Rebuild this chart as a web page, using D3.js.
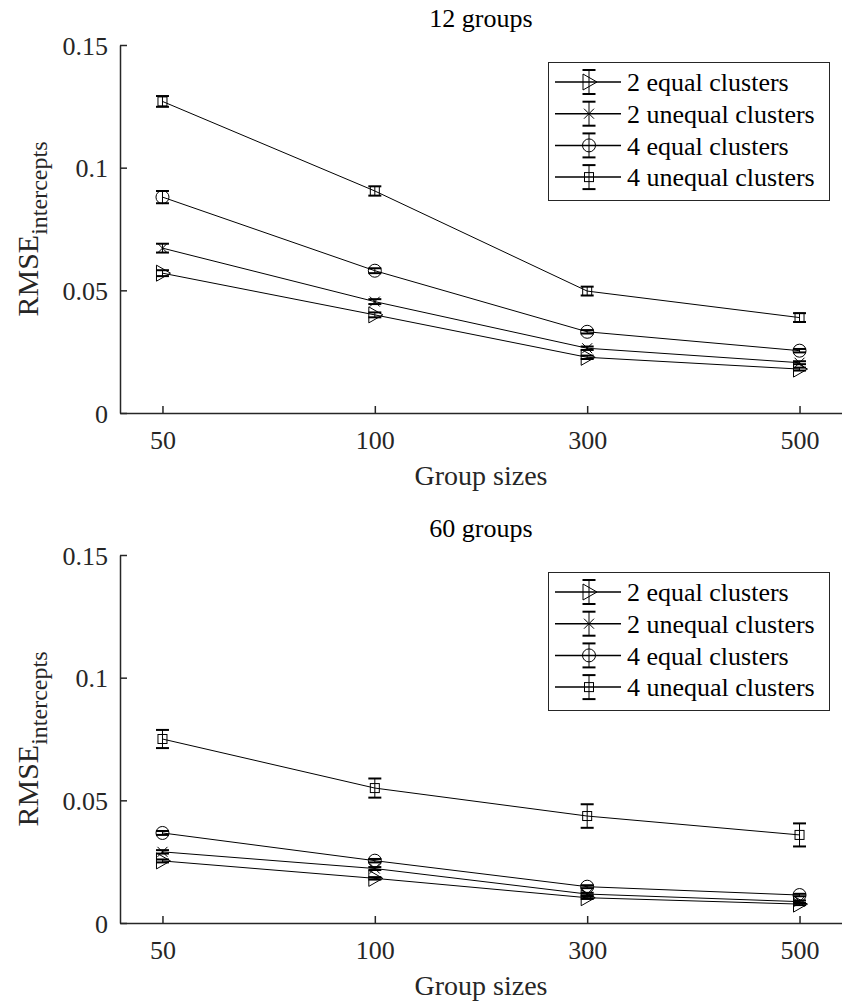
<!DOCTYPE html>
<html>
<head>
<meta charset="utf-8">
<script src="https://cdn.jsdelivr.net/npm/d3@7"></script>
<style>
  body { margin: 0; background: #fff; }
  svg, svg text { font-family: "Liberation Serif", "Times New Roman", serif; }
  svg { display: block; }
</style>
</head>
<body>
<div id="chart"></div>
<script>
// data
const groupSizes = ["50", "100", "300", "500"];
const seriesNames = ["2 equal clusters", "2 unequal clusters", "4 equal clusters", "4 unequal clusters"];
const seriesMarkers = ["tri", "x", "circle", "square"];
const yTicks = [0, 0.05, 0.1, 0.15];
const yTickLabels = ["0", "0.05", "0.1", "0.15"];

// 12 groups
const eq2_12 = [0.0570, 0.0400, 0.0227, 0.0179];
const uneq2_12 = [0.0672, 0.0454, 0.0264, 0.0205];
const eq4_12 = [0.0880, 0.0580, 0.0331, 0.0254];
const uneq4_12 = [0.1270, 0.0905, 0.0497, 0.0389];
const eq2_12err = [0.0012, 0.0010, 0.0007, 0.0006];
const uneq2_12err = [0.0018, 0.0010, 0.0007, 0.0006];
const eq4_12err = [0.0025, 0.0010, 0.0007, 0.0007];
const uneq4_12err = [0.0022, 0.0019, 0.0018, 0.0018];

// 60 groups
const eq2_60 = [0.0253, 0.0182, 0.0103, 0.0077];
const uneq2_60 = [0.0290, 0.0222, 0.0118, 0.0087];
const eq4_60 = [0.0367, 0.0254, 0.0148, 0.0114];
const uneq4_60 = [0.0750, 0.0550, 0.0436, 0.0359];
const eq2_60err = [0.0006, 0.0005, 0.0005, 0.0004];
const uneq2_60err = [0.0007, 0.0006, 0.0005, 0.0005];
const eq4_60err = [0.0008, 0.0007, 0.0006, 0.0005];
const uneq4_60err = [0.0037, 0.0039, 0.0048, 0.0047];

const width = 842, height = 1004;
const axisColor = "#262626";
const serif = '"Liberation Serif", "Times New Roman", serif';

const svg = d3.select("#chart").append("svg")
  .attr("width", width)
  .attr("height", height);

const x = d3.scalePoint()
  .domain(groupSizes)
  .range([120, 842])
  .padding(0.2);

function drawMarker(g, type, cx, cy) {
  if (type == "circle") {
    g.append("circle").attr("cx", cx).attr("cy", cy).attr("r", 6.5)
      .attr("fill", "none").attr("stroke", "#000").attr("stroke-width", 1);
  } else if (type == "square") {
    g.append("rect").attr("x", cx - 4.5).attr("y", cy - 4.5).attr("width", 9).attr("height", 9)
      .attr("fill", "none").attr("stroke", "#000").attr("stroke-width", 1);
  } else if (type == "tri") {
    g.append("path")
      .attr("d", `M${cx - 6},${cy - 8}L${cx + 8},${cy}L${cx - 6},${cy + 8}Z`)
      .attr("fill", "none").attr("stroke", "#000").attr("stroke-width", 1);
  } else if (type == "x") {
    g.append("path")
      .attr("d", `M${cx - 5},${cy - 5}L${cx + 5},${cy + 5}M${cx - 5},${cy + 5}L${cx + 5},${cy - 5}`)
      .attr("fill", "none").attr("stroke", "#000").attr("stroke-width", 1);
  }
}

function drawErrorBar(g, cx, yTop, yBot) {
  g.append("line").attr("x1", cx).attr("x2", cx).attr("y1", yTop).attr("y2", yBot)
    .attr("stroke", "#000").attr("stroke-width", 1);
  [yTop, yBot].forEach(yy => {
    g.append("line").attr("x1", cx - 6.5).attr("x2", cx + 6.5).attr("y1", yy).attr("y2", yy)
      .attr("stroke", "#000").attr("stroke-width", 2);
  });
}

function drawPanel(top, title, values, errors) {
  const bottom = top + 368;
  const y = d3.scaleLinear().domain([0, 0.15]).range([bottom, top]);
  const g = svg.append("g");

  // axes
  const xAxis = g.append("g")
    .attr("transform", `translate(0,${bottom})`)
    .call(d3.axisBottom(x).tickSizeInner(-7).tickSizeOuter(0).tickPadding(18));
  const yAxis = g.append("g")
    .attr("transform", "translate(120,0)")
    .call(d3.axisLeft(y).tickValues(yTicks).tickFormat((d, i) => yTickLabels[i])
      .tickSizeInner(-7).tickSizeOuter(0).tickPadding(12));
  [xAxis, yAxis].forEach(a => {
    a.attr("font-family", serif).attr("font-size", 26);
    a.select(".domain").attr("stroke", axisColor).attr("stroke-width", 1.5);
    a.selectAll(".tick line").attr("stroke", axisColor).attr("stroke-width", 1.5);
    a.selectAll(".tick text").attr("fill", axisColor);
  });
  yAxis.selectAll(".tick text").attr("dy", "0.35em");
  xAxis.selectAll(".tick text").attr("dy", "0.71em");

  // labels
  g.append("text")
    .attr("x", 481).attr("y", top - 18)
    .attr("text-anchor", "middle")
    .attr("font-size", 26)
    .attr("fill", "#000")
    .text(title);
  g.append("text")
    .attr("x", 481).attr("y", bottom + 72)
    .attr("text-anchor", "middle")
    .attr("font-size", 28)
    .attr("fill", axisColor)
    .text("Group sizes");
  const yl = g.append("text")
    .attr("transform", `translate(38,${(top + bottom) / 2}) rotate(-90)`)
    .attr("text-anchor", "middle")
    .attr("font-size", 30)
    .attr("fill", axisColor);
  yl.append("tspan").text("RMSE");
  yl.append("tspan").attr("font-size", 24).attr("dy", 9).text("intercepts");

  // series
  const line = d3.line().x((d, i) => x(groupSizes[i])).y(d => y(d));
  values.forEach((vals, s) => {
    const sg = g.append("g");
    sg.append("path").datum(vals).attr("d", line)
      .attr("fill", "none").attr("stroke", "#000").attr("stroke-width", 1);
    vals.forEach((v, i) => {
      const cx = x(groupSizes[i]);
      drawErrorBar(sg, cx, y(v + errors[s][i]), y(v - errors[s][i]));
      drawMarker(sg, seriesMarkers[s], cx, y(v));
    });
  });

  // legend
  const lg = g.append("g");
  lg.append("rect")
    .attr("x", 548.5).attr("y", top + 17.5).attr("width", 281).attr("height", 138)
    .attr("fill", "#fff").attr("stroke", axisColor).attr("stroke-width", 1);
  seriesNames.forEach((name, s) => {
    const ly = top + 37 + s * 31.7;
    lg.append("line").attr("x1", 555).attr("x2", 621).attr("y1", ly).attr("y2", ly)
      .attr("stroke", "#000").attr("stroke-width", 1.5);
    drawErrorBar(lg, 589, ly - 12, ly + 12);
    drawMarker(lg, seriesMarkers[s], 589, ly);
    lg.append("text").attr("x", 627).attr("y", ly).attr("dy", "0.35em")
      .attr("font-family", serif)
      .attr("font-size", 26).attr("fill", "#000").text(name);
  });
}

drawPanel(45, "12 groups",
  [eq2_12, uneq2_12, eq4_12, uneq4_12],
  [eq2_12err, uneq2_12err, eq4_12err, uneq4_12err]);
drawPanel(555, "60 groups",
  [eq2_60, uneq2_60, eq4_60, uneq4_60],
  [eq2_60err, uneq2_60err, eq4_60err, uneq4_60err]);
</script>
</body>
</html>
